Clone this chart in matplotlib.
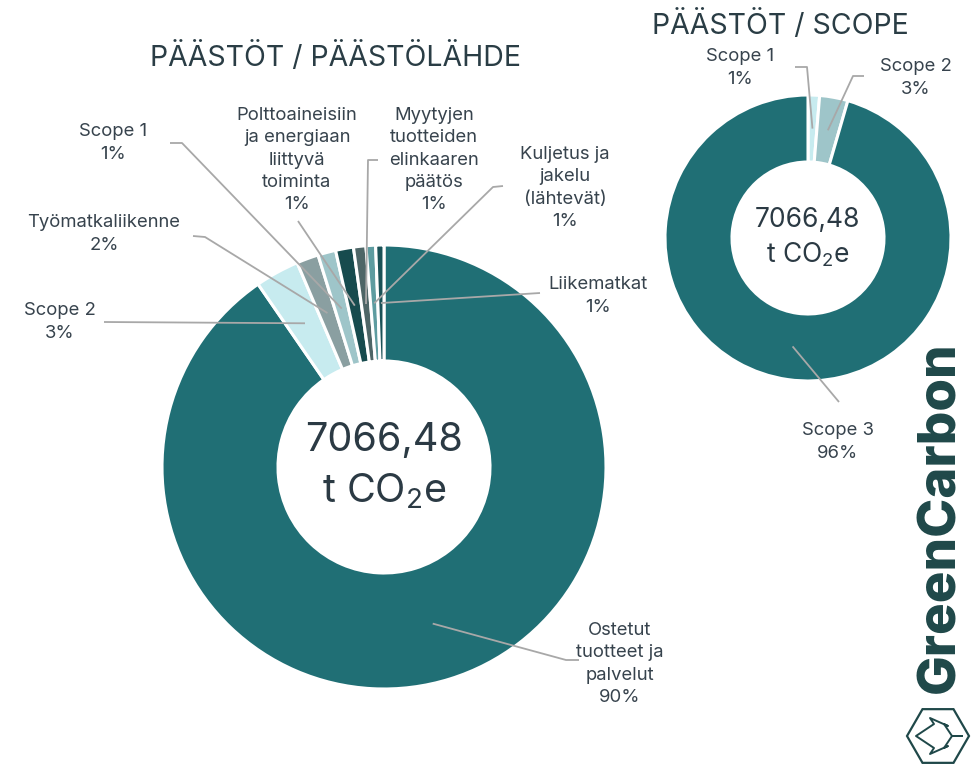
import numpy as np
import matplotlib.pyplot as plt
from matplotlib.patches import RegularPolygon

plt.rcParams['font.family'] = ['Inter', 'DejaVu Sans']
plt.rcParams['mathtext.default'] = 'regular'

# data
src_labels = ["Ostetut\ntuotteet ja\npalvelut", "Scope 2", "Työmatkaliikenne", "Scope 1",
              "Polttoaineisiin\nja energiaan\nliittyvä\ntoiminta",
              "Myytyjen\ntuotteiden\nelinkaaren\npäätös",
              "Kuljetus ja\njakelu\n(lähtevät)", "Liikematkat"]
src_values = [90.4, 3.2, 1.6, 1.3, 1.3, 0.9, 0.7, 0.6]
scope_labels = ["Scope 1", "Scope 2", "Scope 3"]
scope_values = [1.3, 3.2, 95.5]
total_text = "7066,48"

TEAL = '#206f75'
src_colors = [TEAL, '#c7ebef', '#8a9fa1', '#9ec5c9', '#174b4e', '#4e6667', '#5e9ca0', '#1b5257']
scope_colors = ['#c7ebef', '#9ec5c9', TEAL]
TXT = '#37434d'
LINE = '#a8a8a8'
LFS = 13.3   # label font size
LSP = 1.42

W, H = 971, 765
fig = plt.figure(figsize=(W / 100, H / 100), dpi=100)
ax = fig.add_axes([0, 0, 1, 1])


def Y(py):
    return H - py


def pct(v):
    return f"{max(1, int(round(v)))}%"


def donut(values, colors, cx, cy, r, width):
    wedges, _ = ax.pie(values, colors=colors, center=(cx, Y(cy)), radius=r,
                       startangle=90, counterclock=False, frame=True,
                       wedgeprops=dict(width=width, edgecolor='white', linewidth=2.2))
    return wedges


def leader(w, end, elbow=None):
    th = np.deg2rad((w.theta1 + w.theta2) / 2)
    rm = w.r - w.width / 2
    px = w.center[0] + rm * np.cos(th)
    py = w.center[1] + rm * np.sin(th)
    xs, ys = [px], [py]
    if elbow is not None:
        xs.append(elbow[0]); ys.append(Y(elbow[1]))
    xs.append(end[0]); ys.append(Y(end[1]))
    ax.plot(xs, ys, color=LINE, lw=1.3, solid_capstyle='butt', zorder=3)


# big donut
wb = donut(src_values, src_colors, 384, 467, 222, 116)
src_text_pos = [(620, 664), (60, 322), (104, 234), (113, 143), (297, 160), (434, 160), (565, 188), (598, 296)]
src_line_end = [(579, 660), (104, 322), (193, 236), (170, 143), (298, 221), (378, 160), (503, 186), (540, 293)]
src_elbow = [(566, 660), None, (205, 237), (182, 143), None, (368, 160), (493, 187), None]
for w, lab, v, tp, le, el in zip(wb, src_labels, src_values, src_text_pos, src_line_end, src_elbow):
    ax.text(tp[0], Y(tp[1]), lab + "\n" + pct(v), ha='center', va='center', fontsize=LFS,
            color=TXT, linespacing=LSP)
    leader(w, le, el)

ax.text(384, Y(440), total_text, ha='center', va='center', fontsize=28.5, color='#2b3a44')
ax.text(384, Y(491), "t CO$_2$e", ha='center', va='center', fontsize=28.5, color='#2b3a44')

# small donut
ws = donut(scope_values, scope_colors, 808, 238, 143, 67)
scope_text_pos = [(740, 68), (916, 78), (838, 442)]
scope_line_end = [(795, 67), (864, 76), (839, 402)]
scope_elbow = [(807, 67), (853, 76), None]
for w, lab, v, tp, le, el in zip(ws, scope_labels, scope_values, scope_text_pos, scope_line_end, scope_elbow):
    ax.text(tp[0], Y(tp[1]), lab + "\n" + pct(v), ha='center', va='center', fontsize=LFS,
            color=TXT, linespacing=LSP)
    leader(w, le, el)

ax.text(808, Y(220), total_text, ha='center', va='center', fontsize=19, color='#2b3a44')
ax.text(808, Y(255), "t CO$_2$e", ha='center', va='center', fontsize=19, color='#2b3a44')

# titles
ax.text(336, Y(57), "PÄÄSTÖT / PÄÄSTÖLÄHDE", ha='center', va='center', fontsize=20.5, color='#2a3d45')
ax.text(780, Y(25), "PÄÄSTÖT / SCOPE", ha='center', va='center', fontsize=20.5, color='#2a3d45')

# logo
LOGO = '#1f4849'
ax.text(941, Y(517), "GreenCarbon", rotation=90, ha='center', va='center', fontsize=38,
        fontweight='heavy', color=LOGO)
ax.add_patch(RegularPolygon((938, Y(736)), 6, radius=31, orientation=np.pi / 6,
                            fill=False, edgecolor=LOGO, lw=1.6))
tree_x = np.array([962, 952, 944, 948, 930, 934, 916, 934, 930, 948, 944, 952, 962])
tree_y = np.array([736, 736, 724, 726, 718, 724, 736, 748, 754, 746, 748, 736, 736])
ax.plot(tree_x, Y(tree_y), color=LOGO, lw=1.4)

ax.set_xlim(0, W)
ax.set_ylim(0, H)
ax.set_aspect('equal')
ax.axis('off')
fig.savefig("out.png", dpi=100)
